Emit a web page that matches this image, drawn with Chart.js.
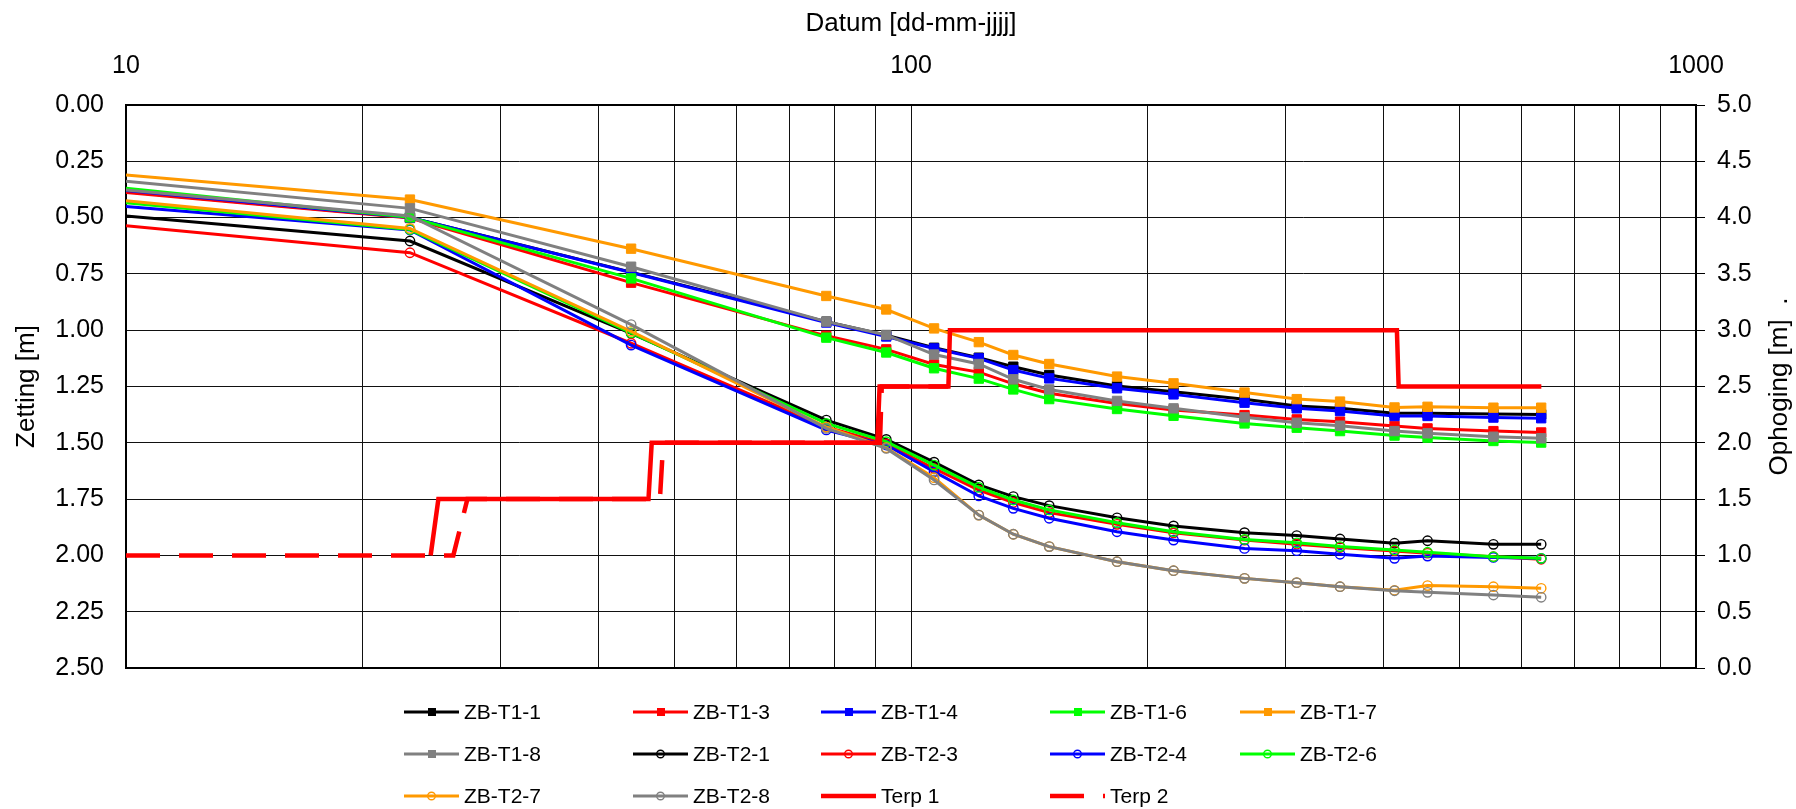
<!DOCTYPE html>
<html><head><meta charset="utf-8">
<script src="https://cdn.jsdelivr.net/npm/chart.js@4"></script>
<style>
html,body{margin:0;padding:0;background:#fff;}
#wrap{position:relative;width:1796px;height:809px;overflow:hidden;}
#legend{position:absolute;left:404px;top:691px;display:grid;grid-template-columns:229px 188px 229px 190px 200px;grid-auto-rows:42px;font-family:"Liberation Sans",Arial,sans-serif;font-size:21px;color:#000;}
.item{display:flex;align-items:center;white-space:nowrap;}
.item svg{margin-right:5px;flex:none;}
</style></head><body>
<div id="wrap"><canvas id="c" width="1796" height="809"></canvas><div id="legend"></div></div>
<script>
// ---- data ----
const days = [10, 23, 44, 78, 93, 107, 122, 135, 150, 183, 216, 266, 310, 352, 413, 455, 552, 635];
const zbT1_1 = [0.385, 0.500, 0.742, 0.962, 1.022, 1.078, 1.122, 1.162, 1.199, 1.248, 1.273, 1.307, 1.337, 1.347, 1.369, 1.369, 1.372, 1.374];
const zbT1_3 = [0.389, 0.502, 0.789, 1.025, 1.085, 1.152, 1.186, 1.238, 1.280, 1.325, 1.354, 1.377, 1.396, 1.406, 1.425, 1.436, 1.448, 1.454];
const zbT1_4 = [0.380, 0.500, 0.744, 0.966, 1.028, 1.081, 1.125, 1.177, 1.214, 1.258, 1.285, 1.322, 1.347, 1.359, 1.381, 1.381, 1.388, 1.391];
const zbT1_6 = [0.370, 0.499, 0.770, 1.033, 1.099, 1.169, 1.215, 1.263, 1.306, 1.350, 1.380, 1.414, 1.433, 1.448, 1.468, 1.477, 1.492, 1.499];
const zbT1_7 = [0.311, 0.420, 0.638, 0.848, 0.908, 0.992, 1.053, 1.110, 1.150, 1.206, 1.236, 1.277, 1.306, 1.317, 1.343, 1.340, 1.344, 1.344];
const zbT1_8 = [0.339, 0.459, 0.718, 0.962, 1.021, 1.108, 1.150, 1.218, 1.263, 1.314, 1.347, 1.387, 1.411, 1.424, 1.448, 1.458, 1.473, 1.480];
const zbT2_1 = [0.493, 0.604, 1.014, 1.399, 1.485, 1.586, 1.687, 1.739, 1.779, 1.833, 1.869, 1.899, 1.912, 1.927, 1.946, 1.935, 1.951, 1.951];
const zbT2_3 = [0.536, 0.656, 1.058, 1.430, 1.505, 1.614, 1.710, 1.765, 1.810, 1.862, 1.900, 1.932, 1.950, 1.965, 1.980, 1.990, 2.006, 2.017];
const zbT2_4 = [0.451, 0.555, 1.066, 1.443, 1.510, 1.628, 1.736, 1.791, 1.835, 1.895, 1.932, 1.969, 1.979, 1.995, 2.013, 2.003, 2.009, 2.013];
const zbT2_6 = [0.434, 0.553, 1.012, 1.414, 1.495, 1.599, 1.698, 1.754, 1.798, 1.855, 1.895, 1.929, 1.944, 1.961, 1.976, 1.986, 2.006, 2.013];
const zbT2_7 = [0.425, 0.548, 1.005, 1.430, 1.522, 1.655, 1.821, 1.906, 1.961, 2.028, 2.068, 2.102, 2.121, 2.139, 2.155, 2.134, 2.139, 2.146];
const zbT2_8 = [0.377, 0.493, 0.975, 1.436, 1.525, 1.665, 1.821, 1.906, 1.961, 2.028, 2.068, 2.102, 2.121, 2.139, 2.157, 2.164, 2.176, 2.186];
const terp1X = [24.44, 25.0, 46.3, 46.74, 90.6, 91.2, 111.6, 112.1, 415.9, 418.0, 635.3];
const terp1Y = [1.0, 1.5, 1.5, 2.0, 2.0, 2.5, 2.5, 3.0, 3.0, 2.5, 2.5];
const terp2X = [10, 26.12, 27.22, 47.88, 48.34, 91.3, 91.78, 111.6];
const terp2Y = [1.0, 1.0, 1.5, 1.5, 2.0, 2.0, 2.5, 2.5];
const xGridTicks = [10,20,30,40,50,60,70,80,90,100,200,300,400,500,600,700,800,900,1000];
const xTickLabels = [10, 100, 1000];
const yLeftTicks = [0,0.25,0.5,0.75,1.0,1.25,1.5,1.75,2.0,2.25,2.5];
const yRightTicks = [0,0.5,1.0,1.5,2.0,2.5,3.0,3.5,4.0,4.5,5.0];
const xTitle = 'Datum [dd-mm-jjjj]';
const yLeftTitle = 'Zetting [m]';
const yRightTitle = 'Ophoging [m]  .';

const C = {black:'#000000', red:'#ff0000', blue:'#0000ff', green:'#00ff00', orange:'#ff9900', gray:'#808080'};
const seriesDefs = [
  ['ZB-T1-1', zbT1_1, C.black, 'sq'], ['ZB-T1-3', zbT1_3, C.red, 'sq'], ['ZB-T1-4', zbT1_4, C.blue, 'sq'],
  ['ZB-T1-6', zbT1_6, C.green, 'sq'], ['ZB-T1-7', zbT1_7, C.orange, 'sq'], ['ZB-T1-8', zbT1_8, C.gray, 'sq'],
  ['ZB-T2-1', zbT2_1, C.black, 'ci'], ['ZB-T2-3', zbT2_3, C.red, 'ci'], ['ZB-T2-4', zbT2_4, C.blue, 'ci'],
  ['ZB-T2-6', zbT2_6, C.green, 'ci'], ['ZB-T2-7', zbT2_7, C.orange, 'ci'], ['ZB-T2-8', zbT2_8, C.gray, 'ci']
];
const FONT = '"Liberation Sans", Arial, sans-serif';
Chart.defaults.font.family = FONT;
Chart.defaults.color = '#000';

const datasets = seriesDefs.map(([label, vals, color, kind], idx) => ({
  label, yAxisID: 'yL', kind,
  data: days.map((d, i) => ({x: d, y: vals[i]})),
  borderColor: color, backgroundColor: color, borderWidth: 3,
  pointStyle: kind === 'sq' ? 'rect' : 'circle',
  pointRadius: days.map((d, i) => i === 0 ? 0 : (kind === 'sq' ? 6.6 : 4.7)),
  pointHoverRadius: 0,
  pointBorderWidth: kind === 'sq' ? 1 : 1.4,
  pointBorderColor: color,
  pointBackgroundColor: kind === 'sq' ? color : 'rgba(0,0,0,0)',
  tension: 0, order: -idx
}));
datasets.push({
  label: 'Terp 1', yAxisID: 'yR', kind: 'terp',
  data: terp1X.map((x, i) => ({x, y: terp1Y[i]})),
  borderColor: C.red, backgroundColor: C.red, borderWidth: 4.5, pointRadius: 0,
  borderCapStyle: 'butt', tension: 0, order: -12
});
datasets.push({
  label: 'Terp 2', yAxisID: 'yR', kind: 'terp',
  data: terp2X.map((x, i) => ({x, y: terp2Y[i]})),
  borderColor: C.red, backgroundColor: C.red, borderWidth: 4.5, pointRadius: 0,
  borderDash: [34, 19], borderCapStyle: 'butt', tension: 0, order: -13
});

const extras = {
  id: 'extras',
  afterDraw(chart) {
    const {ctx, chartArea: a} = chart;
    ctx.save();
    ctx.strokeStyle = '#000'; ctx.lineWidth = 2;
    ctx.beginPath(); ctx.moveTo(a.left - 1, a.bottom); ctx.lineTo(a.right + 1, a.bottom); ctx.stroke();
    const yr = chart.scales.yR;
    ctx.translate(yr.right - 16, (a.top + a.bottom) / 2);
    ctx.rotate(-Math.PI / 2);
    ctx.font = '26px ' + FONT; ctx.textAlign = 'center'; ctx.textBaseline = 'middle'; ctx.fillStyle = '#000';
    ctx.fillText(yRightTitle, 0, 0);
    ctx.restore();
  }
};

const GRID = '#111111';
const chart = new Chart(document.getElementById('c'), {
  type: 'line',
  data: {datasets},
  plugins: [extras],
  options: {
    responsive: false, animation: false, devicePixelRatio: 1,
    layout: {padding: {left: 0, right: 0, top: 0, bottom: 141}},
    plugins: {legend: {display: false}, tooltip: {enabled: false}},
    scales: {
      x: {
        type: 'logarithmic', position: 'top', min: 10, max: 1000,
        afterBuildTicks: s => { s.ticks = xGridTicks.map(v => ({value: v})); },
        afterFit: s => { s.height = 105; },
        ticks: {autoSkip: false, maxRotation: 0, padding: 24, font: {size: 25},
          callback: v => xTickLabels.includes(v) ? String(v) : ''},
        grid: {color: GRID, lineWidth: 1, drawTicks: false},
        border: {display: true, color: '#000', width: 2},
        title: {display: true, text: xTitle, font: {size: 26}, padding: {top: 8, bottom: 0}}
      },
      yL: {
        type: 'linear', position: 'left', min: 0, max: 2.5, reverse: true,
        afterBuildTicks: s => { s.ticks = yLeftTicks.map(v => ({value: v})); },
        afterFit: s => { s.width = 126; },
        ticks: {padding: 22, font: {size: 25}, callback: v => Number(v).toFixed(2)},
        grid: {color: GRID, lineWidth: 1, drawTicks: false},
        border: {display: true, color: '#000', width: 2},
        title: {display: true, text: yLeftTitle, font: {size: 26}, padding: {top: 11, bottom: 0}}
      },
      yR: {
        type: 'linear', position: 'right', min: 0, max: 5,
        afterBuildTicks: s => { s.ticks = yRightTicks.map(v => ({value: v})); },
        afterFit: s => { s.width = 100; },
        ticks: {padding: 12, font: {size: 25}, callback: v => Number(v).toFixed(1)},
        grid: {drawOnChartArea: false, drawTicks: true, tickLength: 9, color: '#000', lineWidth: 1},
        border: {display: true, color: '#000', width: 2},
        title: {display: false}
      }
    }
  }
});

// ---- HTML legend built from the datasets ----
const leg = document.getElementById('legend');
chart.data.datasets.forEach(ds => {
  const item = document.createElement('div');
  item.className = 'item';
  const col = ds.borderColor;
  let svg = `<svg width="55" height="20" viewBox="0 0 55 20">`;
  const dash = ds.borderDash ? `stroke-dasharray="${ds.borderDash.join(' ')}"` : '';
  svg += `<line x1="0" y1="10" x2="55" y2="10" stroke="${col}" stroke-width="${ds.borderWidth}" ${dash}/>`;
  if (ds.kind === 'sq') svg += `<rect x="24" y="6" width="8" height="8" fill="${col}"/>`;
  if (ds.kind === 'ci') svg += `<circle cx="27.5" cy="10" r="3.8" fill="none" stroke="${col}" stroke-width="1.4"/>`;
  svg += `</svg>`;
  item.innerHTML = svg + `<span>${ds.label}</span>`;
  leg.appendChild(item);
});
</script>
</body></html>
